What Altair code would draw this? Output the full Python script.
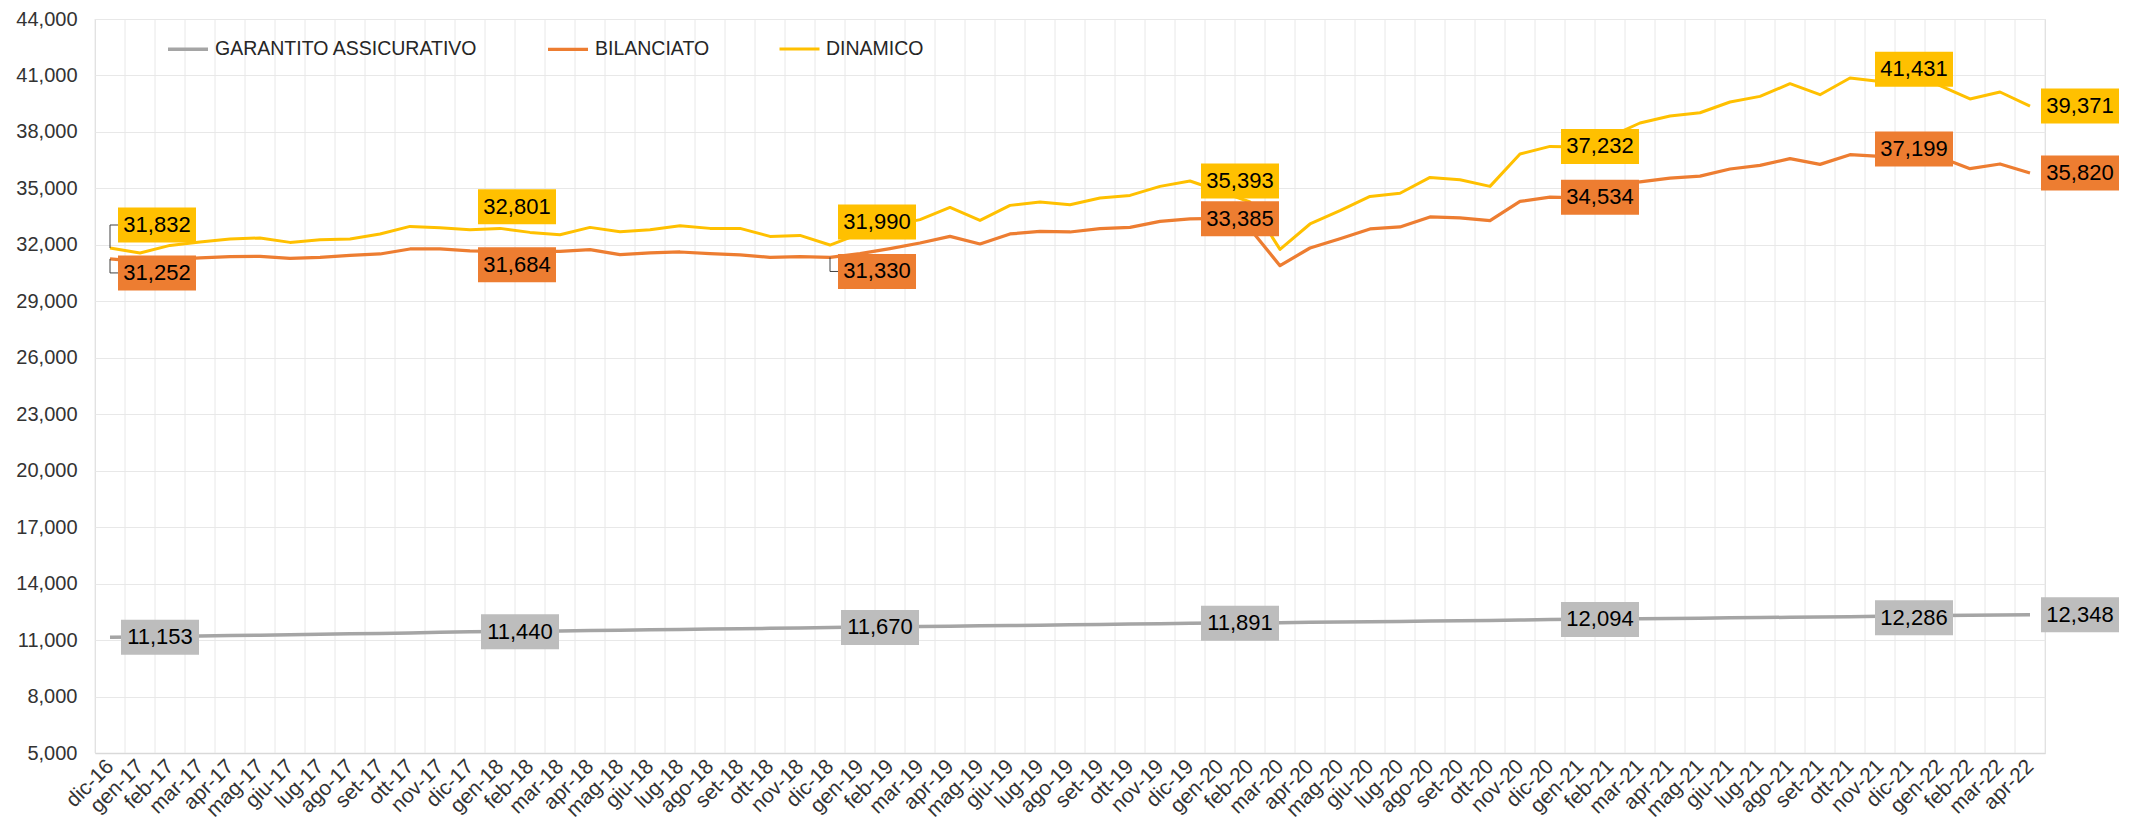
import altair as alt
import pandas as pd
import numpy as np

months = [
    "dic-16",
    "gen-17", "feb-17", "mar-17", "apr-17", "mag-17", "giu-17", "lug-17", "ago-17", "set-17", "ott-17", "nov-17", "dic-17",
    "gen-18", "feb-18", "mar-18", "apr-18", "mag-18", "giu-18", "lug-18", "ago-18", "set-18", "ott-18", "nov-18", "dic-18",
    "gen-19", "feb-19", "mar-19", "apr-19", "mag-19", "giu-19", "lug-19", "ago-19", "set-19", "ott-19", "nov-19", "dic-19",
    "gen-20", "feb-20", "mar-20", "apr-20", "mag-20", "giu-20", "lug-20", "ago-20", "set-20", "ott-20", "nov-20", "dic-20",
    "gen-21", "feb-21", "mar-21", "apr-21", "mag-21", "giu-21", "lug-21", "ago-21", "set-21", "ott-21", "nov-21", "dic-21",
    "gen-22", "feb-22", "mar-22", "apr-22",
]

garantito = [
    11153,
    11165, 11190, 11212, 11238, 11262, 11283, 11305, 11330, 11352, 11378, 11410, 11440,
    11455, 11470, 11488, 11508, 11528, 11548, 11565, 11585, 11603, 11622, 11645, 11670,
    11690, 11705, 11722, 11740, 11757, 11775, 11790, 11810, 11828, 11848, 11868, 11891,
    11905, 11915, 11925, 11942, 11958, 11975, 11990, 12008, 12025, 12045, 12068, 12094,
    12108, 12120, 12135, 12150, 12165, 12180, 12195, 12212, 12228, 12246, 12265, 12286,
    12300, 12315, 12330, 12348,
]

bilanciato = [
    31252,
    31121, 31211, 31302, 31371, 31387, 31281, 31334, 31440, 31514, 31780, 31780, 31684,
    31653, 31650, 31650, 31743, 31477, 31567, 31620, 31530, 31461, 31334, 31371, 31330,
    31530, 31800, 32099, 32450, 32046, 32577, 32716, 32683, 32859, 32928, 33247, 33385,
    33400, 32860, 30893, 31833, 32327, 32843, 32950, 33480, 33427, 33284, 34309, 34534,
    34500, 34900, 35350, 35550, 35650, 36030, 36222, 36578, 36275, 36790, 36700, 37199,
    36650, 36046, 36296, 35820,
]

dinamico = [
    31832,
    31567, 31971, 32152, 32311, 32365, 32131, 32274, 32311, 32577, 32981, 32912, 32801,
    32875, 32662, 32540, 32928, 32699, 32806, 33018, 32875, 32875, 32450, 32503, 31990,
    32600, 33000, 33340, 33990, 33300, 34097, 34277, 34134, 34490, 34628, 35106, 35393,
    34850, 34277, 31760, 33108, 33815, 34575, 34740, 35584, 35462, 35106, 36827, 37232,
    37200, 37750, 38474, 38850, 39020, 39590, 39888, 40563, 39978, 40865, 40685, 41431,
    40456, 39750, 40121, 39371,
]

series_names = ["GARANTITO ASSICURATIVO", "BILANCIATO", "DINAMICO"]
series_values = [garantito, bilanciato, dinamico]
line_colors = ["#A5A5A5", "#ED7D31", "#FFC000"]
box_colors = ["#BDBDBD", "#ED7D31", "#FFC000"]
line_widths = [3.5, 3, 3]

labelled_idx = [0, 12, 24, 36, 48, 60, 64]
y_ticks = list(range(5000, 44001, 3000))

# ---- build tables ----
rows = []
for name, vals in zip(series_names, series_values):
    for i, (m, v) in enumerate(zip(months, vals)):
        rows.append({"i": i, "month": m, "series": name, "v": v})
df = pd.DataFrame(rows)

# label placement (style only)
placement = {
    ("DINAMICO", 0): "up", ("BILANCIATO", 0): "down",
    ("DINAMICO", 12): "up", ("BILANCIATO", 12): "down",
    ("DINAMICO", 24): "up", ("BILANCIATO", 24): "down",
}
leaders = {("DINAMICO", 0), ("BILANCIATO", 0), ("BILANCIATO", 24)}

lab = df[df["i"].isin(labelled_idx)].copy()
def pos_of(r):
    k = (r["series"], r["i"])
    if k in placement:
        return placement[k]
    if r["i"] == 60:
        return "center"
    return "right"
lab["pos"] = lab.apply(pos_of, axis=1)
lab["leader"] = lab.apply(lambda r: (r["series"], r["i"]) in leaders, axis=1)

bounds = pd.DataFrame({"b": np.arange(len(months) + 1) - 0.5})

pos_style = {
    "right": dict(left=11, dy=0),
    "center": dict(left=-35, dy=2),
    "up": dict(left=8, dy=-23),
    "down": dict(left=8, dy=14),
}
BOX_W, BOX_H = 78, 35
FONT = "Liberation Sans"
GRID = "#E8E8E8"

label_js = "[" + ",".join("'" + m + "'" for m in months) + "][datum.value]"

x_scale = alt.Scale(domain=[-0.5, len(months) - 0.5], nice=False, zero=False)
x_axis = alt.Axis(
    values=list(range(len(months))), labelExpr=label_js, labelAngle=-45,
    labelAlign="right", labelBaseline="middle", labelFontSize=21, labelPadding=10,
    labelColor="#333333", labelOverlap=False, labelFont=FONT, ticks=False, grid=False,
    domain=True, domainColor="#D9D9D9", domainWidth=1.5, title=None,
)
y_scale = alt.Scale(domain=[5000, 44000], nice=False, zero=False)
y_axis = alt.Axis(
    values=y_ticks, labelExpr="format(datum.value, ',')", labelFontSize=20,
    labelColor="#333333", labelFont=FONT,
    labelPadding=18, ticks=False, domain=False, grid=True, gridColor=GRID, gridWidth=1,
    title=None,
)

X = alt.X("i:Q", scale=x_scale, axis=x_axis)
Y = alt.Y("v:Q", scale=y_scale, axis=y_axis)

layers = []

# vertical gridlines at category boundaries
layers.append(
    alt.Chart(bounds).mark_rule(color=GRID, strokeWidth=1).encode(
        x=alt.X("b:Q", scale=x_scale, axis=x_axis)
    )
)

# lines
layers.append(
    alt.Chart(df).mark_line(strokeJoin="round").encode(
        x=X, y=Y,
        color=alt.Color(
            "series:N",
            scale=alt.Scale(domain=series_names, range=line_colors),
            sort=series_names,
            legend=alt.Legend(
                orient="none", legendX=71, legendY=8, direction="horizontal",
                title=None, symbolType="stroke", symbolSize=1600, symbolStrokeWidth=4,
                labelFontSize=19.5, labelFont=FONT, labelColor="#262626", labelOffset=5,
                columnPadding=63, padding=0, labelLimit=400,
            ),
        ),
        strokeWidth=alt.StrokeWidth(
            "series:N", scale=alt.Scale(domain=series_names, range=line_widths), legend=None
        ),
        order="i:Q",
    )
)

for p, s in pos_style.items():
    sub = alt.Chart(lab).transform_filter(alt.datum.pos == p)
    # leader lines
    if p in ("up", "down"):
        lead = sub.transform_filter(alt.datum.leader == True)
        layers.append(
            lead.mark_rule(color="#404040", strokeWidth=1, y2Offset=s["dy"]).encode(
                x=X, y=Y, y2=alt.Y2("v")
            )
        )
        layers.append(
            lead.mark_rule(color="#404040", strokeWidth=1, xOffset=0, x2Offset=s["left"],
                           yOffset=s["dy"]).encode(
                x=X, x2=alt.X2("i"), y=Y
            )
        )
    layers.append(
        sub.mark_rect(
            xOffset=s["left"], x2Offset=s["left"] + BOX_W,
            yOffset=s["dy"] - BOX_H / 2, y2Offset=s["dy"] + BOX_H / 2,
        ).encode(
            x=X, x2=alt.X2("i"), y=Y, y2=alt.Y2("v"),
            fill=alt.Fill("series:N", scale=alt.Scale(domain=series_names, range=box_colors), legend=None),
        )
    )
    layers.append(
        sub.mark_text(
            dx=s["left"] + BOX_W / 2, dy=s["dy"], align="center", baseline="middle",
            fontSize=22, font=FONT, color="#000000",
        ).encode(
            x=X, y=Y, text=alt.Text("v:Q", format=",")
        )
    )

chart = (
    alt.layer(*layers)
    .properties(
        width=1950, height=734,
        padding={"left": 87, "top": 11, "right": 76, "bottom": 70},
        autosize=alt.AutoSizeParams(type="none"),
        background="white",
    )
    .configure_view(stroke=None)
    .configure(font=FONT)
)

chart.save("out.html", embed_options={"renderer": "svg", "actions": False})
